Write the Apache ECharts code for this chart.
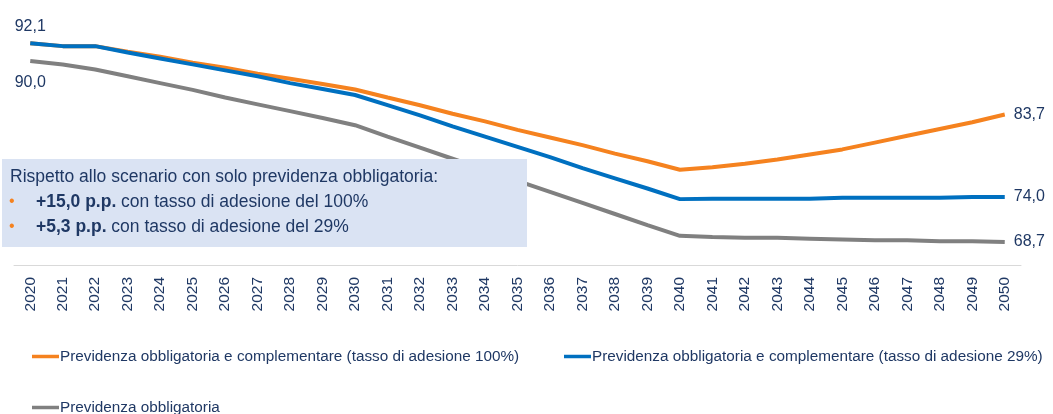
<!DOCTYPE html>
<html>
<head>
<meta charset="utf-8">
<script src="https://cdn.jsdelivr.net/npm/echarts@6/dist/echarts.min.js"></script>
<style>html,body{margin:0;padding:0;background:#fff}#c{width:1053px;height:414px}</style>
</head>
<body>
<div id="c"></div>
<script>
var years = ['2020','2021','2022','2023','2024','2025','2026','2027','2028','2029','2030','2031','2032','2033','2034','2035','2036','2037','2038','2039','2040','2041','2042','2043','2044','2045','2046','2047','2048','2049','2050'];
var seriesNames = [
  'Previdenza obbligatoria e complementare (tasso di adesione 100%)',
  'Previdenza obbligatoria e complementare (tasso di adesione 29%)',
  'Previdenza obbligatoria'
];
var orangeVals = [92.1,91.75,91.75,91.1,90.5,89.8,89.2,88.5,87.9,87.3,86.65,85.7,84.8,83.8,82.9,81.9,81.0,80.1,79.1,78.2,77.2,77.5,77.9,78.4,79.0,79.6,80.4,81.2,82.0,82.8,83.7];
var blueVals = [92.1,91.75,91.75,91.0,90.3,89.6,88.9,88.2,87.4,86.7,86.0,84.8,83.6,82.3,81.1,79.9,78.7,77.4,76.2,75.0,73.75,73.8,73.8,73.8,73.8,73.9,73.9,73.9,73.9,74.0,74.0];
var grayVals = [90.0,89.6,89.0,88.2,87.4,86.6,85.7,84.9,84.1,83.3,82.45,81.1,79.8,78.5,77.2,75.9,74.6,73.3,72.0,70.7,69.43,69.3,69.2,69.2,69.1,69.0,68.9,68.9,68.8,68.8,68.7];
var boxTitle = 'Rispetto allo scenario con solo previdenza obbligatoria:';
var boxBold = ['+15,0 p.p.', '+5,3 p.p.'];
var boxRest = [' con tasso di adesione del 100%', ' con tasso di adesione del 29%'];

var FONT = "'Liberation Sans',Arial,sans-serif";
var NAVY = '#1F3864';
var colors = ['#F5821F', '#0070C0', '#808080'];

function fmt(v){ return v.toFixed(1).replace('.', ','); }
function buildData(vals, labels){
  return vals.map(function(v, i){
    var d = {value: v};
    if (labels[i]) d.label = Object.assign({show: true}, labels[i]);
    return d;
  });
}
var last = years.length - 1;
var rightLbl = {position: 'right', distance: 9};
var orangeLabels = {}; orangeLabels[last] = rightLbl;
var blueLabels = {0: {position: 'top', distance: 9}}; blueLabels[last] = rightLbl;
var grayLabels = {0: {position: 'bottom', distance: 14}}; grayLabels[last] = rightLbl;

var lblStyle = {show: false, fontFamily: FONT, fontSize: 16, color: NAVY, formatter: function(p){ return fmt(p.value); }};

var chart = echarts.init(document.getElementById('c'));
function legendFor(i, left, top){
  return {
    data: [seriesNames[i]], left: left, top: top, icon: 'rect', itemWidth: 27, itemHeight: 3.5,
    textStyle: {fontFamily: FONT, fontSize: 15.3, color: NAVY, padding: [0,0,0,-4]},
    selectedMode: false
  };
}
function lineSeries(name, vals, labels, color, z){
  return {
    name: name, type: 'line', data: buildData(vals, labels),
    symbol: 'circle', symbolSize: 0.01, showSymbol: true,
    lineStyle: {width: 4, color: color}, itemStyle: {color: color},
    label: lblStyle, z: z, emphasis: {disabled: true}
  };
}
chart.setOption({
  animation: false,
  color: colors,
  grid: {left: 14, right: 32, top: 27, bottom: 149},
  legend: [legendFor(0, 27, 344), legendFor(1, 559, 344), legendFor(2, 27, 395)],
  xAxis: {
    type: 'category', data: years, boundaryGap: true,
    axisLine: {lineStyle: {color: '#D9D9D9', width: 1}},
    axisTick: {show: false},
    axisLabel: {rotate: 90, margin: 12, interval: 0, fontFamily: FONT, fontSize: 15.5, color: NAVY}
  },
  yAxis: {type: 'value', min: 66, max: 94, show: false, splitLine: {show: false}},
  series: [
    lineSeries(seriesNames[2], grayVals, grayLabels, colors[2], 2),
    lineSeries(seriesNames[0], orangeVals, orangeLabels, colors[0], 3),
    lineSeries(seriesNames[1], blueVals, blueLabels, colors[1], 4)
  ],
  graphic: [
    {type: 'rect', z: 100, shape: {x: 2, y: 159, width: 525, height: 88}, style: {fill: '#DAE3F3'}},
    {type: 'text', z: 101, x: 10, y: 177, style: {text: boxTitle, fontFamily: FONT, fontSize: 17.5, fill: NAVY, verticalAlign: 'middle'}},
    {type: 'text', z: 101, x: 9, y: 202, style: {text: '•', fontFamily: FONT, fontSize: 16, fill: colors[0], verticalAlign: 'middle'}},
    {type: 'text', z: 101, x: 36, y: 202, style: {text: '{b|' + boxBold[0] + '}' + boxRest[0], fontFamily: FONT, fontSize: 17.5, fill: NAVY, verticalAlign: 'middle', rich: {b: {fontFamily: FONT, fontSize: 17.5, fontWeight: 'bold', fill: NAVY}}}},
    {type: 'text', z: 101, x: 9, y: 227, style: {text: '•', fontFamily: FONT, fontSize: 16, fill: colors[0], verticalAlign: 'middle'}},
    {type: 'text', z: 101, x: 36, y: 227, style: {text: '{b|' + boxBold[1] + '}' + boxRest[1], fontFamily: FONT, fontSize: 17.5, fill: NAVY, verticalAlign: 'middle', rich: {b: {fontFamily: FONT, fontSize: 17.5, fontWeight: 'bold', fill: NAVY}}}}
  ]
});
</script>
</body>
</html>
